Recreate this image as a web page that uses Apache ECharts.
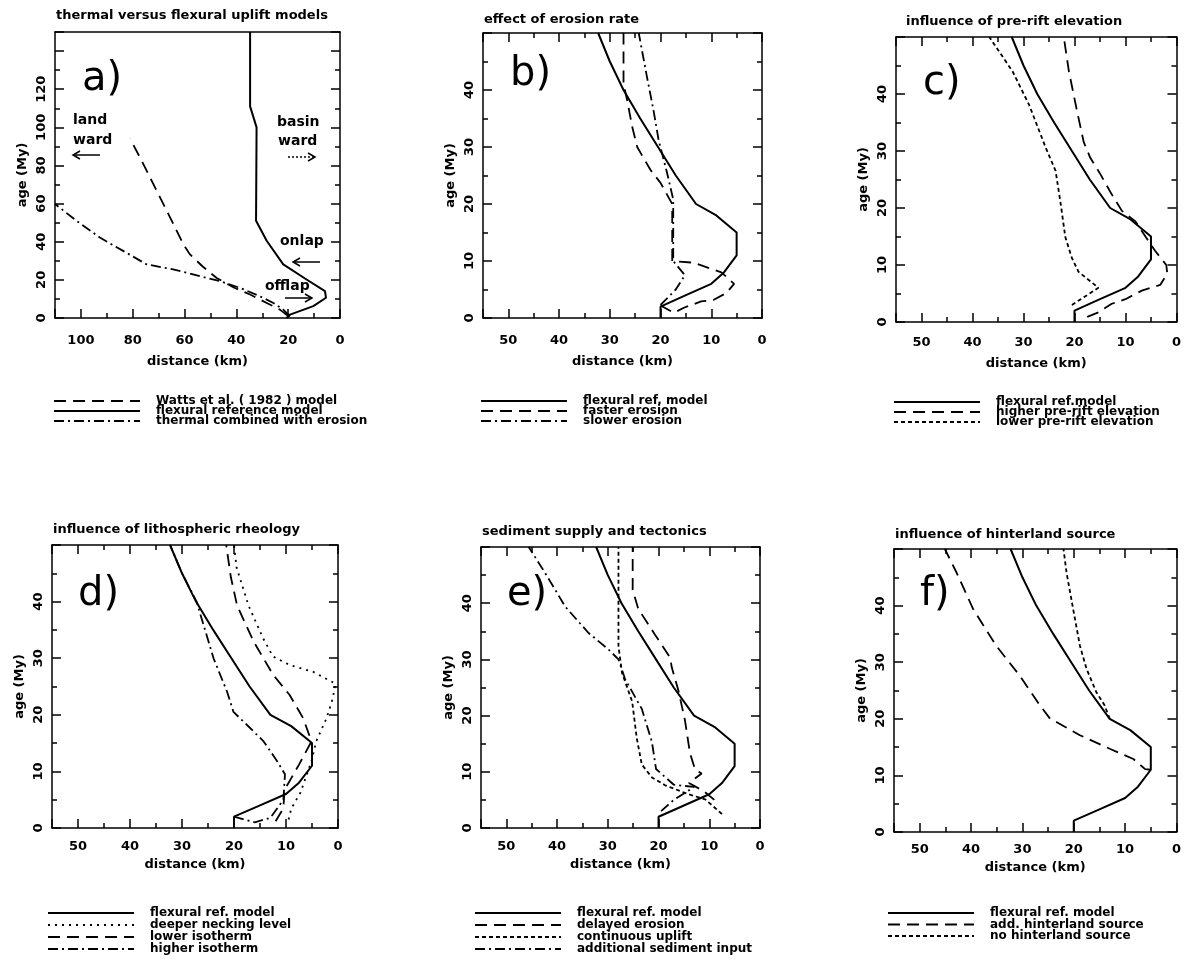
<!DOCTYPE html>
<html>
<head>
<meta charset="utf-8">
<title>uplift models</title>
<script src="https://cdn.jsdelivr.net/npm/echarts@6/dist/echarts.min.js"></script>
<style>
  html, body { margin: 0; padding: 0; background: #fff; }
  #chart { width: 1184px; height: 972px; }
</style>
</head>
<body>
<div id="chart"></div>
<script>
// all curves are [distance (km), age (My)]

// a) thermal versus flexural uplift models
const aWatts = [[20, 1], [23.2, 4.4], [28.3, 7.9], [34.7, 12.3], [41, 16], [47.6, 21], [53, 27], [58, 33.5], [60.5, 38.7], [65.6, 52.8], [70.8, 66.8], [76, 81], [81, 94]];
const aFlex = [[20.6, 0], [19.3, 1.8], [10.3, 6.2], [5.4, 10.6], [5.8, 14.1], [12.9, 20.2], [21.9, 28.1], [28.3, 40.5], [32.4, 51], [32.2, 100], [34.7, 111], [34.7, 150]];
const aThermal = [[19.3, 0.9], [21.9, 4.4], [25.7, 7.9], [30.9, 11.4], [38.6, 15.8], [46.3, 19.3], [54.1, 22], [64.4, 25.5], [74.6, 28.1], [83.7, 35.2], [92.7, 42.2], [101.7, 51], [110, 59.8]];

// reference flexural model used in b) - f)
const flexRef = [[20, 0], [20, 2], [15, 4], [10, 6], [7.5, 8], [5, 11], [5, 15], [9, 18], [13, 20], [17, 25], [20.5, 30], [24, 35], [27.3, 40], [30, 45], [32.3, 50]];

// b) effect of erosion rate
const bFaster = [[20, 2.2], [17.4, 0.9], [15.4, 1.8], [12, 2.9], [9.5, 3.2], [7, 4.4], [5.5, 6], [8, 8], [13.5, 9.7], [17.7, 10], [17.7, 20], [20, 23.7], [22, 26], [24.6, 30], [25.6, 33.6], [26.6, 38.3], [27.3, 41], [27.3, 50]];
const bSlower = [[20, 2.3], [17, 5], [15.2, 7.5], [17.5, 10], [17.5, 20.8], [18.7, 25.4], [20.4, 31.3], [21.4, 36.5], [22.7, 42.4], [24.3, 50]];

// c) influence of pre-rift elevation
const cHigher = [[17.5, 0.9], [15.3, 1.7], [12.7, 3.2], [10, 4], [6.8, 5.5], [3.2, 6.5], [1.8, 8.5], [2, 10], [4.2, 12.5], [8.1, 17.7], [10.7, 19.5], [12.7, 22.4], [14.9, 25.9], [16.9, 28.8], [18.2, 31.6], [19.5, 37], [21.1, 44], [22.1, 50]];
const cLower = [[20.5, 3], [17.2, 4.9], [15.3, 6], [19.2, 8.8], [20.5, 11.2], [21.8, 14.9], [22.7, 20.7], [23.7, 26.5], [25.6, 30.5], [28.9, 38.1], [32.1, 43.9], [36.7, 50]];

// d) influence of lithospheric rheology
const dDeeper = [[9.5, 1.5], [9, 3.4], [7.2, 6.3], [5.1, 11.8], [4.2, 15.3], [2.2, 19.4], [1, 22.9], [0.5, 25.5], [4.8, 27.6], [9.3, 28.8], [12.5, 30.3], [14.4, 33.5], [17.2, 39.3], [19.5, 46], [20, 50]];
const dLower = [[12, 1.2], [10.5, 3.5], [10.3, 6.7], [7.5, 11.2], [5.1, 15.3], [6.7, 19.4], [9.3, 23.5], [12.5, 27.1], [16.2, 32.9], [19.4, 39.3], [20.6, 44.3], [21.5, 50]];
const dHigher = [[20, 2], [16, 1], [13, 1.8], [10.5, 5], [10.2, 9.5], [11.7, 11.8], [14.3, 15.3], [17.5, 18.2], [20.1, 20.5], [21.3, 24], [23.9, 29.9], [25.8, 35.7], [27.2, 40], [30, 45], [32.3, 50]];

// e) sediment supply and tectonics
const eDelayed = [[9, 5], [11, 6.5], [14, 8], [11.5, 9.7], [12.8, 10.4], [13.8, 13.3], [14.8, 19.2], [16.1, 24.5], [17.4, 28.6], [17.7, 30.3], [20.7, 34.4], [24, 39], [25.1, 42.4], [25.1, 50]];
const eUplift = [[7.5, 2.5], [10.8, 5.1], [14.1, 6], [18.7, 7.6], [21.3, 9], [23.3, 11.3], [24.3, 16], [25.2, 22.5], [27.2, 27.6], [27.9, 32.3], [27.9, 50]];
const eSediment = [[19.5, 3], [17, 5], [13, 7.3], [17, 7.7], [20.5, 10.5], [21.3, 15.3], [23.3, 21.2], [26.6, 26.5], [27.9, 30], [29.9, 31.8], [33.8, 34.7], [38.4, 39.4], [42.3, 45.3], [45.6, 50]];

// f) influence of hinterland source
const fAdd = [[5, 11], [6.1, 11.1], [8.4, 12.9], [13, 14.7], [18.8, 17.1], [23.3, 19.4], [24.6, 20], [26.6, 22.4], [30.5, 27.6], [35.1, 32.9], [39.6, 39.4], [42.8, 45.8], [45.1, 50]];
const fNo = [[13, 20], [14, 22.4], [15.6, 24.7], [17.5, 28.8], [18.8, 32.9], [20.1, 39.3], [21.4, 45.8], [22, 50]];

const titles = ['thermal versus flexural uplift models', 'effect of erosion rate', 'influence of pre-rift elevation',
  'influence of lithospheric rheology', 'sediment supply and tectonics', 'influence of hinterland source'];
const panelTags = ['a)', 'b)', 'c)', 'd)', 'e)', 'f)'];

const FONT = 'DejaVu Sans';
const DASH = [12, 7];
const DASHDOT = [10, 4, 2, 4];
const DOT = [2, 5];
const SHORT = [4, 3];

// layout of the six boxes
const panels = [
  { grid: { left: 55, top: 32, width: 285, height: 286 }, xMax: 110, xInt: 20, xLab: 100, yMax: 150, yInt: 20, yLab: 120, topTicks: false, lm: 16, ng: 37, title: [56, 9], tag: [82, 80], legend: [53, 395], gap: -2 },
  { grid: { left: 483, top: 33, width: 279, height: 285 }, xMax: 55, xInt: 10, xLab: 50, yMax: 50, yInt: 10, yLab: 40, topTicks: true, lm: 16, ng: 37, title: [484, 13], tag: [510, 75], legend: [480, 395], gap: -2 },
  { grid: { left: 896, top: 37, width: 282, height: 285 }, xMax: 55, xInt: 10, xLab: 50, yMax: 50, yInt: 10, yLab: 40, topTicks: true, lm: 14, ng: 35, title: [906, 15], tag: [923, 84], legend: [893, 396], gap: -2 },
  { grid: { left: 52, top: 545, width: 286, height: 283 }, xMax: 55, xInt: 10, xLab: 50, yMax: 50, yInt: 10, yLab: 40, topTicks: true, lm: 12, ng: 30, title: [53, 523], tag: [78, 595], legend: [47, 907], gap: 0 },
  { grid: { left: 481, top: 547, width: 279, height: 281 }, xMax: 55, xInt: 10, xLab: 50, yMax: 50, yInt: 10, yLab: 40, topTicks: true, lm: 12, ng: 30, title: [482, 525], tag: [507, 595], legend: [474, 907], gap: 0 },
  { grid: { left: 894, top: 549, width: 283, height: 283 }, xMax: 55, xInt: 10, xLab: 50, yMax: 50, yInt: 10, yLab: 40, topTicks: true, lm: 11, ng: 29, title: [895, 528], tag: [920, 595], legend: [887, 907], gap: -0.5 }
];

const lineSeries = [
  [0, 'Watts et al. ( 1982 ) model', aWatts, DASH],
  [0, 'flexural reference model', aFlex, 'solid'],
  [0, 'thermal combined with erosion', aThermal, DASHDOT],
  [1, 'flexural ref. model', flexRef, 'solid'],
  [1, 'faster erosion', bFaster, DASH],
  [1, 'slower erosion', bSlower, DASHDOT],
  [2, 'flexural ref.model', flexRef, 'solid'],
  [2, 'higher pre-rift elevation', cHigher, DASH],
  [2, 'lower pre-rift elevation', cLower, SHORT],
  [3, 'flexural ref. model', flexRef, 'solid'],
  [3, 'deeper necking level', dDeeper, DOT],
  [3, 'lower isotherm', dLower, DASH],
  [3, 'higher isotherm', dHigher, DASHDOT],
  [4, 'flexural ref. model', flexRef, 'solid'],
  [4, 'delayed erosion', eDelayed, DASH],
  [4, 'continuous uplift', eUplift, SHORT],
  [4, 'additional sediment input', eSediment, DASHDOT],
  [5, 'flexural ref. model', flexRef, 'solid'],
  [5, 'add. hinterland source', fAdd, DASH],
  [5, 'no hinterland source', fNo, SHORT]
];

const black = { color: '#000', width: 1.5 };
const labelFont = { color: '#000', fontFamily: FONT, fontWeight: 'bold', fontSize: 13 };

const xAxis = [], yAxis = [];
panels.forEach((p, i) => {
  const tick = { show: true, inside: true, length: 9, lineStyle: black };
  const minor = { show: true, splitNumber: 2, length: 5, lineStyle: black };
  const base = { type: 'value', gridIndex: i, splitLine: { show: false }, axisLine: { show: true, onZero: false, lineStyle: black } };
  xAxis.push(Object.assign({}, base, {
    position: 'bottom', min: 0, max: p.xMax, interval: p.xInt, inverse: true,
    axisTick: tick, minorTick: minor,
    axisLabel: Object.assign({ margin: p.lm, showMaxLabel: false, formatter: v => (v % p.xInt === 0 && v <= p.xLab) ? String(v) : '' }, labelFont),
    name: 'distance (km)', nameLocation: 'middle', nameGap: p.ng, nameTextStyle: labelFont
  }));
  xAxis.push(Object.assign({}, base, {
    position: 'top', min: 0, max: p.xMax, interval: p.xInt, inverse: true,
    axisTick: Object.assign({}, tick, { show: p.topTicks }), minorTick: Object.assign({}, minor, { show: p.topTicks }),
    axisLabel: { show: false }
  }));
  yAxis.push(Object.assign({}, base, {
    position: 'left', min: 0, max: p.yMax, interval: p.yInt,
    axisTick: tick, minorTick: minor,
    axisLabel: Object.assign({ margin: 7, rotate: 90, showMaxLabel: false, formatter: v => (v % p.yInt === 0 && v <= p.yLab) ? String(v) : '' }, labelFont),
    name: 'age (My)', nameLocation: 'middle', nameRotate: 90, nameGap: 26, nameTextStyle: labelFont
  }));
  yAxis.push(Object.assign({}, base, {
    position: 'right', min: 0, max: p.yMax, interval: p.yInt,
    axisTick: tick, minorTick: minor,
    axisLabel: { show: false }
  }));
});

const series = lineSeries.map(([p, name, data, type]) => ({
  type: 'line', name: name, data: data,
  xAxisIndex: 2 * p, yAxisIndex: 2 * p,
  symbol: 'none', silent: true, animation: false, clip: true,
  itemStyle: { color: '#000' },
  lineStyle: { color: '#000', width: type === 'solid' ? 2 : 1.8, type: type }
}));

// small arrows of panel a
function arrow(x1, x2, y, dashed) {
  const d = x2 > x1 ? -1 : 1;
  return [
    { type: 'line', shape: { x1: x1, y1: y, x2: x2, y2: y }, style: { stroke: '#000', lineWidth: 1.5, lineDash: dashed ? [2, 2] : null } },
    { type: 'polyline', shape: { points: [[x2 + d * 7, y - 4], [x2, y], [x2 + d * 7, y + 4]] }, style: { stroke: '#000', lineWidth: 1.5, fill: null } }
  ];
}
function note(text, x, y) {
  return { type: 'text', x: x, y: y, style: { text: text, font: 'bold 14px "' + FONT + '"', fill: '#000', verticalAlign: 'middle' } };
}

const graphic = panels.map((p, i) => ({
  type: 'text', x: p.tag[0], y: p.tag[1],
  style: { text: panelTags[i], font: '40px "' + FONT + '"', fill: '#000', verticalAlign: 'middle' }
})).concat([
  note('land', 73, 120), note('ward', 73, 140),
  note('basin', 277, 122), note('ward', 278, 141),
  note('onlap', 280, 241), note('offlap', 265, 286)
], arrow(100, 73, 155), arrow(288, 315, 157, true), arrow(320, 293, 262), arrow(285, 312, 298));

const option = {
  backgroundColor: '#fff',
  animation: false,
  title: panels.map((p, i) => ({
    text: titles[i], left: p.title[0], top: p.title[1], padding: 0,
    textStyle: { color: '#000', fontFamily: FONT, fontWeight: 'bold', fontSize: 13 }
  })),
  grid: panels.map(p => Object.assign({ containLabel: false }, p.grid)),
  xAxis: xAxis,
  yAxis: yAxis,
  legend: panels.map((p, i) => ({
    data: lineSeries.filter(s => s[0] === i).map(s => s[1]),
    orient: 'vertical', left: p.legend[0], top: p.legend[1], padding: 0,
    itemStyle: { color: 'rgba(0,0,0,0)', borderWidth: 0, opacity: 0 },
    lineStyle: { color: '#000' },
    itemWidth: 86, itemHeight: 10, itemGap: p.gap, selectedMode: false,
    textStyle: { color: '#000', fontFamily: FONT, fontWeight: 'bold', fontSize: 12, padding: [0, 0, 0, 11] }
  })),
  graphic: graphic,
  series: series
};

const chart = echarts.init(document.getElementById('chart'));
chart.setOption(option);
</script>
</body>
</html>
